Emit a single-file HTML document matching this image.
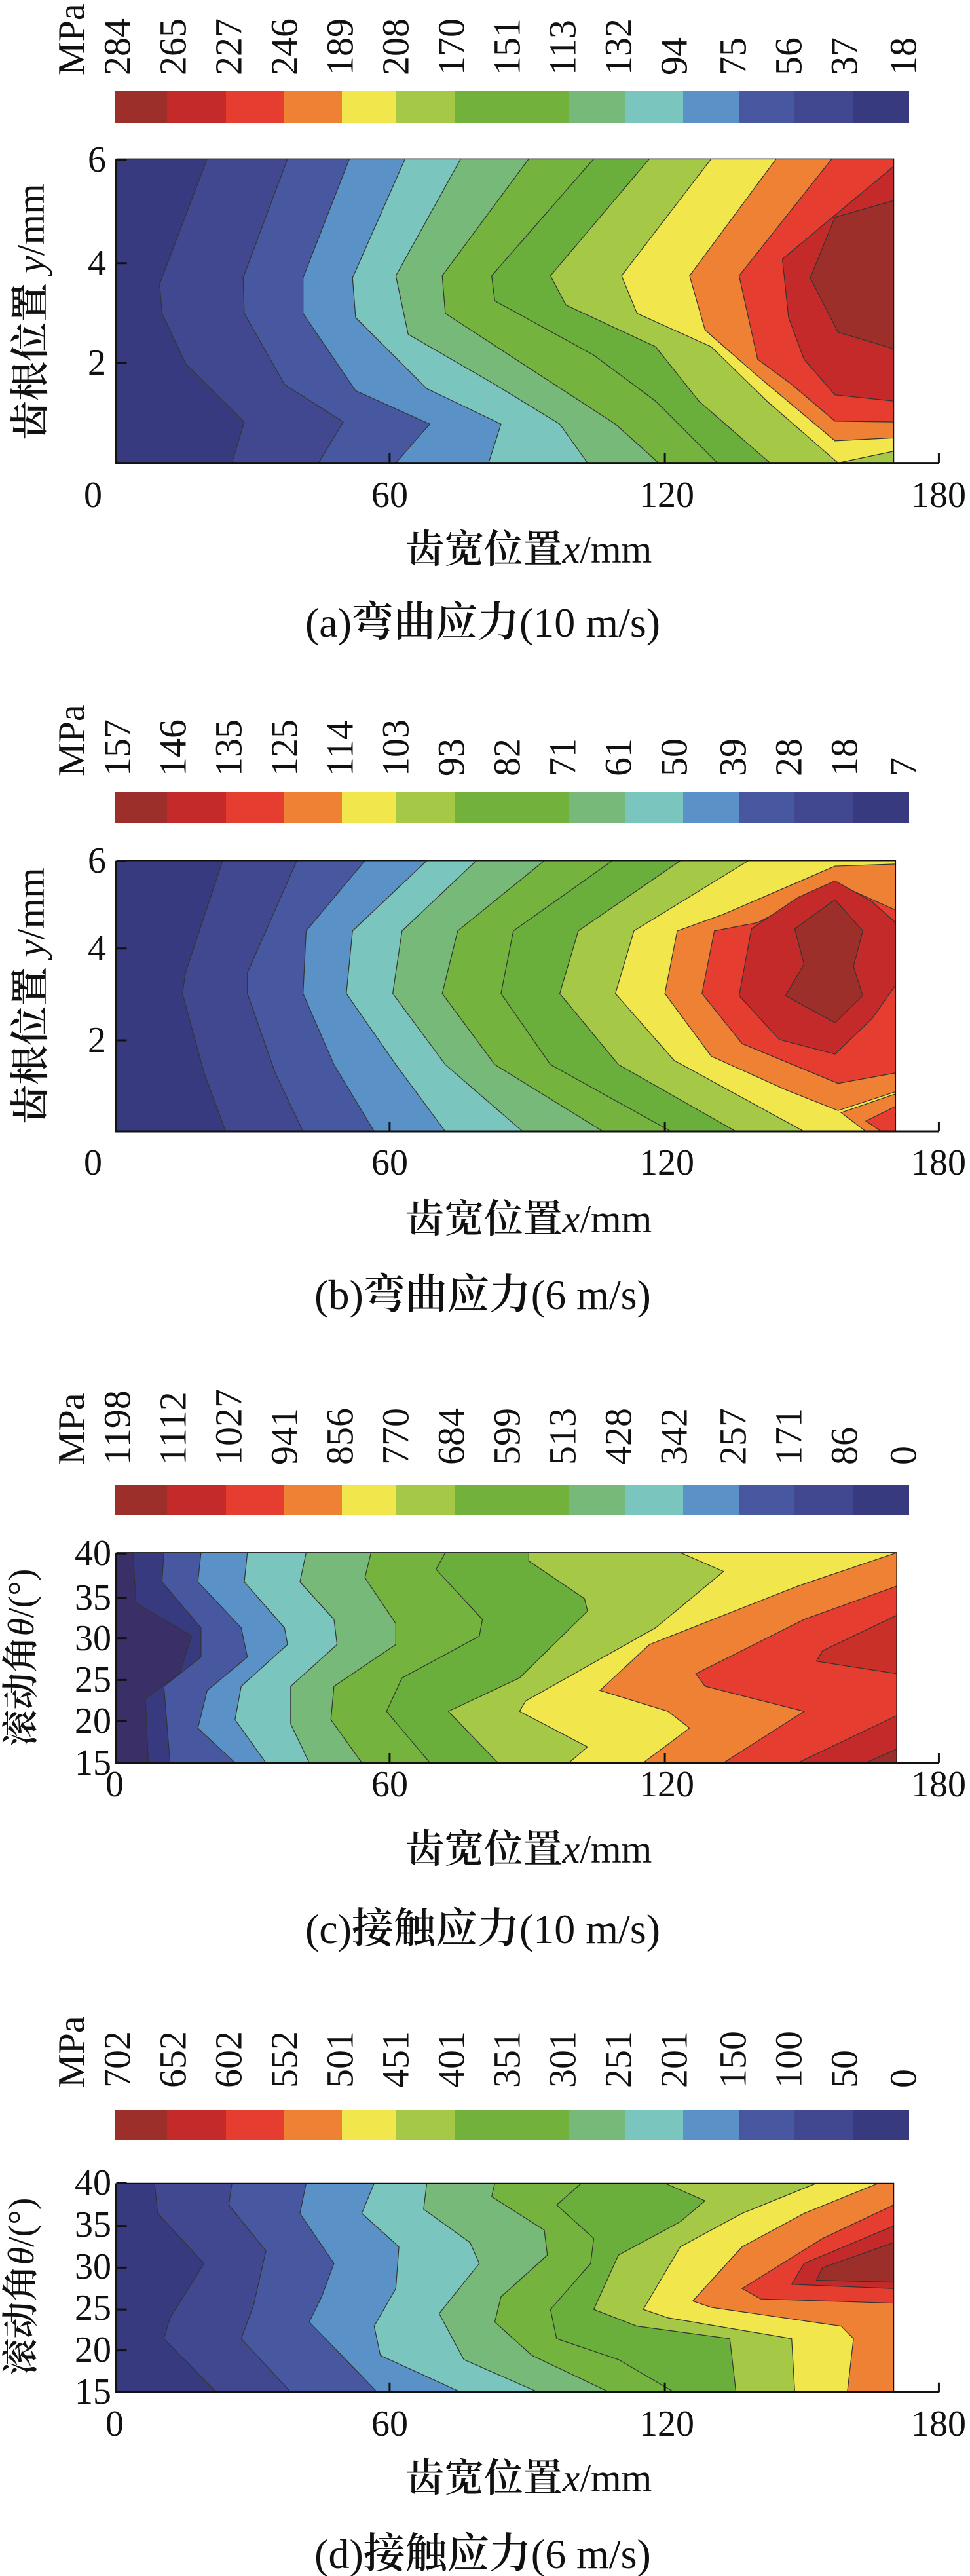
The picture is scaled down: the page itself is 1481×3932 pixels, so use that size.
<!DOCTYPE html>
<html><head><meta charset="utf-8"><style>
html,body{margin:0;padding:0;background:#fff;}
svg{display:block}
.n{font-family:"Liberation Serif",serif;font-size:56px;fill:#111}
.c{font-family:"Liberation Serif","Noto Serif CJK SC",serif;font-size:60px;fill:#111;font-weight:600}
.cb{font-family:"Liberation Serif",serif;font-size:58px;fill:#111}
polygon{stroke:#333;stroke-width:1.2;vector-effect:non-scaling-stroke}
.ax{stroke:#111;fill:none;vector-effect:non-scaling-stroke}
</style></head><body>
<svg width="1481" height="3932" viewBox="0 0 1481 3932" xmlns="http://www.w3.org/2000/svg">
<defs>
<g id="cbar">
<rect x="175" y="0" width="80" height="1" fill="#9c2f2a"/>
<rect x="255" y="0" width="90" height="1" fill="#c42a2a"/>
<rect x="345" y="0" width="89" height="1" fill="#e53d30"/>
<rect x="434" y="0" width="88" height="1" fill="#ee8134"/>
<rect x="522" y="0" width="82" height="1" fill="#f1e74c"/>
<rect x="604" y="0" width="90" height="1" fill="#a6c847"/>
<rect x="694" y="0" width="175" height="1" fill="#72b23c"/>
<rect x="869" y="0" width="85" height="1" fill="#76b978"/>
<rect x="954" y="0" width="89" height="1" fill="#7ac5be"/>
<rect x="1043" y="0" width="85" height="1" fill="#5a92c8"/>
<rect x="1128" y="0" width="85" height="1" fill="#4858a0"/>
<rect x="1213" y="0" width="90" height="1" fill="#414890"/>
<rect x="1303" y="0" width="85" height="1" fill="#383a80"/>
</g>
<clipPath id="ca"><rect x="188" y="380" width="1257" height="728"/></clipPath>
<clipPath id="cb2"><rect x="188" y="492" width="1260" height="648"/></clipPath>
<clipPath id="cc"><rect x="188" y="580" width="1262" height="503"/></clipPath>
<clipPath id="cd"><rect x="188" y="628" width="1257" height="500"/></clipPath>
</defs>

<!-- ============ PANEL A ============ -->
<g class="cb">
<g transform="translate(109,115) rotate(-90)"><text dominant-baseline="central">MPa</text></g>
<g transform="translate(179,115) rotate(-90)"><text dominant-baseline="central">284</text></g>
<g transform="translate(264,115) rotate(-90)"><text dominant-baseline="central">265</text></g>
<g transform="translate(349,115) rotate(-90)"><text dominant-baseline="central">227</text></g>
<g transform="translate(434,115) rotate(-90)"><text dominant-baseline="central">246</text></g>
<g transform="translate(519,115) rotate(-90)"><text dominant-baseline="central">189</text></g>
<g transform="translate(604,115) rotate(-90)"><text dominant-baseline="central">208</text></g>
<g transform="translate(689,115) rotate(-90)"><text dominant-baseline="central">170</text></g>
<g transform="translate(774,115) rotate(-90)"><text dominant-baseline="central">151</text></g>
<g transform="translate(859,115) rotate(-90)"><text dominant-baseline="central">113</text></g>
<g transform="translate(944,115) rotate(-90)"><text dominant-baseline="central">132</text></g>
<g transform="translate(1029,115) rotate(-90)"><text dominant-baseline="central">94</text></g>
<g transform="translate(1119,115) rotate(-90)"><text dominant-baseline="central">75</text></g>
<g transform="translate(1204,115) rotate(-90)"><text dominant-baseline="central">56</text></g>
<g transform="translate(1289,115) rotate(-90)"><text dominant-baseline="central">37</text></g>
<g transform="translate(1379,115) rotate(-90)"><text dominant-baseline="central">18</text></g>
</g>
<use href="#cbar" transform="translate(0,139) scale(1,48)"/>
<g transform="translate(0,0) scale(0.94429,0.63776)">
<g clip-path="url(#ca)">
<rect x="188" y="380" width="1257" height="728" fill="#383a80"/>
<polygon fill="#414890" points="335,380 258,680 262,750 300,870 395,1010 375,1108 1445,1108 1445,380"/>
<polygon fill="#4858a0" points="465,380 393,665 395,750 460,920 555,1010 515,1108 1445,1108 1445,380"/>
<polygon fill="#5a92c8" points="565,380 490,665 490,750 575,935 695,1015 640,1108 1445,1108 1445,380"/>
<polygon fill="#7ac5be" points="655,380 570,665 575,760 690,930 810,1015 790,1108 1445,1108 1445,380"/>
<polygon fill="#76b978" points="745,380 640,660 660,800 800,920 905,1015 950,1108 1445,1108 1445,380"/>
<polygon fill="#74b33d" points="855,380 715,660 720,750 865,890 995,1015 1065,1108 1445,1108 1445,380"/>
<polygon fill="#6aae3c" points="960,380 795,660 800,720 960,850 1060,960 1160,1108 1445,1108 1445,380"/>
<polygon fill="#a6c847" points="1050,380 890,660 915,730 1060,830 1130,960 1245,1108 1445,1108 1445,380"/>
<polygon fill="#f1e74c" points="1150,380 1005,660 1030,750 1150,830 1240,960 1355,1108 1445,1108 1445,380"/>
<polygon fill="#a6c847" points="1355,1108 1445,1080 1445,1108"/>
<polygon fill="#ee8134" points="1255,380 1115,660 1140,790 1225,900 1350,1055 1445,1048 1445,380"/>
<polygon fill="#e53d30" points="1345,380 1195,660 1225,860 1280,920 1350,1008 1445,1010 1445,380"/>
<polygon fill="#c42a2a" points="1445,398 1265,620 1275,760 1300,860 1350,945 1445,960"/>
<polygon fill="#9c2f2a" points="1445,480 1350,520 1310,665 1355,795 1445,835"/>
</g>
<path class="ax" stroke-width="1.5" d="M188,380 H1445 V1108"/>
<path class="ax" stroke-width="3" d="M188,380 V1108 H1518 M630,1108 V1085 M1075,1108 V1085 M1518,1108 V1085 M188,383 H205 M188,630 H205 M188,868 H205"/>
</g>
<g class="n" dominant-baseline="central">
<text x="162" y="244" text-anchor="end" dominant-baseline="central">6</text>
<text x="162" y="402" text-anchor="end" dominant-baseline="central">4</text>
<text x="162" y="554" text-anchor="end" dominant-baseline="central">2</text>
<text x="142" y="756" text-anchor="middle" dominant-baseline="central">0</text>
<text x="595" y="756" text-anchor="middle" dominant-baseline="central">60</text>
<text x="1018" y="756" text-anchor="middle" dominant-baseline="central">120</text>
<text x="1433" y="756" text-anchor="middle" dominant-baseline="central">180</text>
</g>
<g class="c"><g transform="translate(47,476) rotate(-90)"><text text-anchor="middle" dominant-baseline="central">齿根位置 <tspan font-style="italic" font-weight="normal">y</tspan><tspan font-weight="normal">/mm</tspan></text></g></g>
<text class="c" x="807" y="839" text-anchor="middle" dominant-baseline="central">齿宽位置<tspan font-style="italic" font-weight="normal">x</tspan><tspan font-weight="normal">/mm</tspan></text>
<text class="c" x="737" y="950" text-anchor="middle" dominant-baseline="central" style="font-size:64px"><tspan font-weight="normal">(a)</tspan>弯曲应力<tspan font-weight="normal">(10 m/s)</tspan></text>

<!-- ============ PANEL B ============ -->
<g class="cb">
<g transform="translate(109,1185) rotate(-90)"><text dominant-baseline="central">MPa</text></g>
<g transform="translate(179,1185) rotate(-90)"><text dominant-baseline="central">157</text></g>
<g transform="translate(264,1185) rotate(-90)"><text dominant-baseline="central">146</text></g>
<g transform="translate(349,1185) rotate(-90)"><text dominant-baseline="central">135</text></g>
<g transform="translate(434,1185) rotate(-90)"><text dominant-baseline="central">125</text></g>
<g transform="translate(519,1185) rotate(-90)"><text dominant-baseline="central">114</text></g>
<g transform="translate(604,1185) rotate(-90)"><text dominant-baseline="central">103</text></g>
<g transform="translate(689,1185) rotate(-90)"><text dominant-baseline="central">93</text></g>
<g transform="translate(774,1185) rotate(-90)"><text dominant-baseline="central">82</text></g>
<g transform="translate(859,1185) rotate(-90)"><text dominant-baseline="central">71</text></g>
<g transform="translate(944,1185) rotate(-90)"><text dominant-baseline="central">61</text></g>
<g transform="translate(1029,1185) rotate(-90)"><text dominant-baseline="central">50</text></g>
<g transform="translate(1119,1185) rotate(-90)"><text dominant-baseline="central">39</text></g>
<g transform="translate(1204,1185) rotate(-90)"><text dominant-baseline="central">28</text></g>
<g transform="translate(1289,1185) rotate(-90)"><text dominant-baseline="central">18</text></g>
<g transform="translate(1379,1185) rotate(-90)"><text dominant-baseline="central">7</text></g>
</g>
<use href="#cbar" transform="translate(0,1209) scale(1,47)"/>
<g transform="translate(0,1000) scale(0.94429,0.63776)">
<g clip-path="url(#cb2)">
<rect x="188" y="492" width="1260" height="648" fill="#383a80"/>
<polygon fill="#414890" points="360,492 300,760 295,810 330,1000 365,1140 1448,1140 1448,492"/>
<polygon fill="#4858a0" points="480,492 400,760 400,810 445,1000 490,1140 1448,1140 1448,492"/>
<polygon fill="#5a92c8" points="590,492 495,660 490,810 540,980 605,1140 1448,1140 1448,492"/>
<polygon fill="#7ac5be" points="690,492 570,660 560,810 640,980 720,1140 1448,1140 1448,492"/>
<polygon fill="#76b978" points="770,492 650,660 635,810 720,980 845,1140 1448,1140 1448,492"/>
<polygon fill="#74b33d" points="880,492 740,660 715,810 800,980 975,1140 1448,1140 1448,492"/>
<polygon fill="#6aae3c" points="990,492 830,660 810,810 890,980 1085,1140 1448,1140 1448,492"/>
<polygon fill="#a6c847" points="1100,492 935,660 905,810 1000,980 1190,1140 1448,1140 1448,492"/>
<polygon fill="#f1e74c" points="1210,492 1025,660 995,810 1090,970 1300,1140 1448,1140 1448,492"/>
<polygon fill="#ee8134" points="1448,500 1350,505 1170,620 1095,660 1075,810 1150,960 1270,1040 1355,1090 1448,1045"/>
<polygon fill="#e53d30" points="1448,610 1350,545 1225,640 1155,660 1135,810 1200,930 1355,1025 1448,1000"/>
<polygon fill="#c42a2a" points="1350,540 1290,580 1215,655 1195,815 1260,920 1350,955 1410,870 1448,790 1448,640 1410,590"/>
<polygon fill="#9c2f2a" points="1350,585 1285,655 1300,740 1270,815 1350,880 1395,815 1380,745 1395,660"/>
<polygon fill="#ee8134" points="1360,1095 1448,1050 1448,1140 1400,1140"/>
<polygon fill="#e53d30" points="1400,1115 1448,1080 1448,1140 1425,1140"/>
</g>
<path class="ax" stroke-width="1.5" d="M188,492 H1448 V1140"/>
<path class="ax" stroke-width="3" d="M188,492 V1140 H1518 M630,1140 V1117 M1075,1140 V1117 M1518,1140 V1117 M188,492 H205 M188,702 H205 M188,922 H205"/>
</g>
<g class="n">
<text x="162" y="1314" text-anchor="end" dominant-baseline="central">6</text>
<text x="162" y="1448" text-anchor="end" dominant-baseline="central">4</text>
<text x="162" y="1588" text-anchor="end" dominant-baseline="central">2</text>
<text x="142" y="1775" text-anchor="middle" dominant-baseline="central">0</text>
<text x="595" y="1775" text-anchor="middle" dominant-baseline="central">60</text>
<text x="1018" y="1775" text-anchor="middle" dominant-baseline="central">120</text>
<text x="1433" y="1775" text-anchor="middle" dominant-baseline="central">180</text>
</g>
<g class="c"><g transform="translate(47,1520) rotate(-90)"><text text-anchor="middle" dominant-baseline="central">齿根位置 <tspan font-style="italic" font-weight="normal">y</tspan><tspan font-weight="normal">/mm</tspan></text></g></g>
<text class="c" x="807" y="1861" text-anchor="middle" dominant-baseline="central">齿宽位置<tspan font-style="italic" font-weight="normal">x</tspan><tspan font-weight="normal">/mm</tspan></text>
<text class="c" x="737" y="1976" text-anchor="middle" dominant-baseline="central" style="font-size:64px"><tspan font-weight="normal">(b)</tspan>弯曲应力<tspan font-weight="normal">(6 m/s)</tspan></text>

<!-- ============ PANEL C ============ -->
<g class="cb">
<g transform="translate(109,2236) rotate(-90)"><text dominant-baseline="central">MPa</text></g>
<g transform="translate(179,2236) rotate(-90)"><text dominant-baseline="central">1198</text></g>
<g transform="translate(264,2236) rotate(-90)"><text dominant-baseline="central">1112</text></g>
<g transform="translate(349,2236) rotate(-90)"><text dominant-baseline="central">1027</text></g>
<g transform="translate(434,2236) rotate(-90)"><text dominant-baseline="central">941</text></g>
<g transform="translate(519,2236) rotate(-90)"><text dominant-baseline="central">856</text></g>
<g transform="translate(604,2236) rotate(-90)"><text dominant-baseline="central">770</text></g>
<g transform="translate(689,2236) rotate(-90)"><text dominant-baseline="central">684</text></g>
<g transform="translate(774,2236) rotate(-90)"><text dominant-baseline="central">599</text></g>
<g transform="translate(859,2236) rotate(-90)"><text dominant-baseline="central">513</text></g>
<g transform="translate(944,2236) rotate(-90)"><text dominant-baseline="central">428</text></g>
<g transform="translate(1029,2236) rotate(-90)"><text dominant-baseline="central">342</text></g>
<g transform="translate(1119,2236) rotate(-90)"><text dominant-baseline="central">257</text></g>
<g transform="translate(1204,2236) rotate(-90)"><text dominant-baseline="central">171</text></g>
<g transform="translate(1289,2236) rotate(-90)"><text dominant-baseline="central">86</text></g>
<g transform="translate(1379,2236) rotate(-90)"><text dominant-baseline="central">0</text></g>
</g>
<use href="#cbar" transform="translate(0,2267) scale(1,45)"/>
<g transform="translate(0,2000) scale(0.94429,0.63776)">
<g clip-path="url(#cc)">
<rect x="188" y="580" width="1262" height="503" fill="#3a2f66"/>
<polygon fill="#383a80" points="215,580 220,700 310,780 290,870 235,930 240,1083 1450,1083 1450,580"/>
<polygon fill="#4858a0" points="265,580 262,650 325,760 325,830 265,900 275,1083 1450,1083 1450,580"/>
<polygon fill="#5a92c8" points="325,580 320,650 390,760 400,830 335,910 320,1000 380,1083 1450,1083 1450,580"/>
<polygon fill="#7ac5be" points="400,580 395,650 460,760 465,800 390,900 380,980 430,1083 1450,1083 1450,580"/>
<polygon fill="#76b978" points="495,580 485,650 540,740 545,800 470,900 470,990 500,1083 1450,1083 1450,580"/>
<polygon fill="#74b33d" points="600,580 590,640 640,750 640,800 540,900 535,980 585,1083 1450,1083 1450,580"/>
<polygon fill="#6aae3c" points="720,580 705,620 780,740 775,780 650,880 625,960 695,1083 1450,1083 1450,580"/>
<polygon fill="#a6c847" points="855,580 855,600 945,690 950,720 840,880 725,960 805,1083 1450,1083 1450,580"/>
<polygon fill="#f1e74c" points="1100,580 1170,625 1060,760 850,935 840,960 950,1045 920,1083 1450,1083 1450,580"/>
<polygon fill="#ee8134" points="1450,580 1290,660 1050,800 970,910 1080,960 1115,1000 1040,1083 1450,1083"/>
<polygon fill="#e53d30" points="1450,660 1300,740 1125,870 1140,900 1300,960 1170,1083 1450,1083"/>
<polygon fill="#c42a2a" points="1290,1083 1450,970 1450,1083"/>
<polygon fill="#9c2f2a" points="1400,1083 1450,1050 1450,1083"/>
<polygon fill="#c83028" points="1450,730 1330,815 1320,840 1450,870"/>
</g>
<path class="ax" stroke-width="1.5" d="M188,580 H1450 V1083"/>
<path class="ax" stroke-width="3" d="M188,580 V1083 H1518 M630,1083 V1060 M1075,1083 V1060 M1518,1083 V1060 M188,582 H205 M188,688 H205 M188,785 H205 M188,885 H205 M188,983 H205"/>
</g>
<g class="n">
<text x="170" y="2371" text-anchor="end" dominant-baseline="central">40</text>
<text x="170" y="2439" text-anchor="end" dominant-baseline="central">35</text>
<text x="170" y="2501" text-anchor="end" dominant-baseline="central">30</text>
<text x="170" y="2564" text-anchor="end" dominant-baseline="central">25</text>
<text x="170" y="2627" text-anchor="end" dominant-baseline="central">20</text>
<text x="170" y="2691" text-anchor="end" dominant-baseline="central">15</text>
<text x="175" y="2724" text-anchor="middle" dominant-baseline="central">0</text>
<text x="595" y="2724" text-anchor="middle" dominant-baseline="central">60</text>
<text x="1018" y="2724" text-anchor="middle" dominant-baseline="central">120</text>
<text x="1433" y="2724" text-anchor="middle" dominant-baseline="central">180</text>
</g>
<g class="c" style="font-size:56px"><g transform="translate(33,2530) rotate(-90)"><text text-anchor="middle" dominant-baseline="central">滚动角<tspan font-style="italic" font-weight="normal">θ</tspan><tspan font-weight="normal">/(°)</tspan></text></g></g>
<text class="c" x="807" y="2823" text-anchor="middle" dominant-baseline="central">齿宽位置<tspan font-style="italic" font-weight="normal">x</tspan><tspan font-weight="normal">/mm</tspan></text>
<text class="c" x="737" y="2944" text-anchor="middle" dominant-baseline="central" style="font-size:64px"><tspan font-weight="normal">(c)</tspan>接触应力<tspan font-weight="normal">(10 m/s)</tspan></text>

<!-- ============ PANEL D ============ -->
<g class="cb">
<g transform="translate(109,3187) rotate(-90)"><text dominant-baseline="central">MPa</text></g>
<g transform="translate(179,3187) rotate(-90)"><text dominant-baseline="central">702</text></g>
<g transform="translate(264,3187) rotate(-90)"><text dominant-baseline="central">652</text></g>
<g transform="translate(349,3187) rotate(-90)"><text dominant-baseline="central">602</text></g>
<g transform="translate(434,3187) rotate(-90)"><text dominant-baseline="central">552</text></g>
<g transform="translate(519,3187) rotate(-90)"><text dominant-baseline="central">501</text></g>
<g transform="translate(604,3187) rotate(-90)"><text dominant-baseline="central">451</text></g>
<g transform="translate(689,3187) rotate(-90)"><text dominant-baseline="central">401</text></g>
<g transform="translate(774,3187) rotate(-90)"><text dominant-baseline="central">351</text></g>
<g transform="translate(859,3187) rotate(-90)"><text dominant-baseline="central">301</text></g>
<g transform="translate(944,3187) rotate(-90)"><text dominant-baseline="central">251</text></g>
<g transform="translate(1029,3187) rotate(-90)"><text dominant-baseline="central">201</text></g>
<g transform="translate(1119,3187) rotate(-90)"><text dominant-baseline="central">150</text></g>
<g transform="translate(1204,3187) rotate(-90)"><text dominant-baseline="central">100</text></g>
<g transform="translate(1289,3187) rotate(-90)"><text dominant-baseline="central">50</text></g>
<g transform="translate(1379,3187) rotate(-90)"><text dominant-baseline="central">0</text></g>
</g>
<use href="#cbar" transform="translate(0,3221) scale(1,46)"/>
<g transform="translate(0,2932) scale(0.94429,0.63776)">
<g clip-path="url(#cd)">
<rect x="188" y="628" width="1257" height="500" fill="#383a80"/>
<polygon fill="#414890" points="250,628 255,700 330,820 275,950 265,1000 350,1128 1445,1128 1445,628"/>
<polygon fill="#4858a0" points="375,628 370,680 430,790 410,920 390,1000 470,1128 1445,1128 1445,628"/>
<polygon fill="#5a92c8" points="495,628 485,700 540,820 520,900 500,960 610,1128 1445,1128 1445,628"/>
<polygon fill="#7ac5be" points="605,628 585,700 645,780 640,880 605,970 615,1040 745,1128 1445,1128 1445,628"/>
<polygon fill="#76b978" points="690,628 685,690 760,770 775,820 710,940 750,1050 870,1128 1445,1128 1445,628"/>
<polygon fill="#74b33d" points="800,628 795,660 880,740 885,800 810,900 800,960 860,1040 985,1128 1445,1128 1445,628"/>
<polygon fill="#6aae3c" points="940,628 900,680 960,760 955,820 890,930 900,1000 1000,1050 1090,1128 1445,1128 1445,628"/>
<polygon fill="#a6c847" points="1075,628 1140,670 1100,720 1000,800 960,930 1030,970 1180,1000 1190,1128 1445,1128 1445,628"/>
<polygon fill="#f1e74c" points="1320,628 1200,700 1100,780 1040,930 1080,950 1280,1000 1285,1128 1445,1128 1445,628"/>
<polygon fill="#ee8134" points="1420,628 1300,700 1200,780 1120,910 1150,925 1360,970 1380,1000 1370,1128 1445,1128 1445,628"/>
<polygon fill="#e53d30" points="1445,680 1330,760 1200,880 1230,905 1445,915"/>
<polygon fill="#c42a2a" points="1445,730 1300,820 1280,870 1445,880"/>
<polygon fill="#9c2f2a" points="1445,770 1330,830 1320,860 1445,865"/>
</g>
<path class="ax" stroke-width="1.5" d="M188,628 H1445 V1128"/>
<path class="ax" stroke-width="3" d="M188,628 V1128 H1518 M630,1128 V1105 M1075,1128 V1105 M1518,1128 V1105 M188,628 H205 M188,730 H205 M188,830 H205 M188,930 H205 M188,1028 H205"/>
</g>
<g class="n">
<text x="170" y="3332" text-anchor="end" dominant-baseline="central">40</text>
<text x="170" y="3396" text-anchor="end" dominant-baseline="central">35</text>
<text x="170" y="3460" text-anchor="end" dominant-baseline="central">30</text>
<text x="170" y="3523" text-anchor="end" dominant-baseline="central">25</text>
<text x="170" y="3587" text-anchor="end" dominant-baseline="central">20</text>
<text x="170" y="3651" text-anchor="end" dominant-baseline="central">15</text>
<text x="175" y="3700" text-anchor="middle" dominant-baseline="central">0</text>
<text x="595" y="3700" text-anchor="middle" dominant-baseline="central">60</text>
<text x="1018" y="3700" text-anchor="middle" dominant-baseline="central">120</text>
<text x="1433" y="3700" text-anchor="middle" dominant-baseline="central">180</text>
</g>
<g class="c" style="font-size:56px"><g transform="translate(33,3490) rotate(-90)"><text text-anchor="middle" dominant-baseline="central">滚动角<tspan font-style="italic" font-weight="normal">θ</tspan><tspan font-weight="normal">/(°)</tspan></text></g></g>
<text class="c" x="807" y="3783" text-anchor="middle" dominant-baseline="central">齿宽位置<tspan font-style="italic" font-weight="normal">x</tspan><tspan font-weight="normal">/mm</tspan></text>
<text class="c" x="737" y="3898" text-anchor="middle" dominant-baseline="central" style="font-size:64px"><tspan font-weight="normal">(d)</tspan>接触应力<tspan font-weight="normal">(6 m/s)</tspan></text>
</svg>
</body></html>
